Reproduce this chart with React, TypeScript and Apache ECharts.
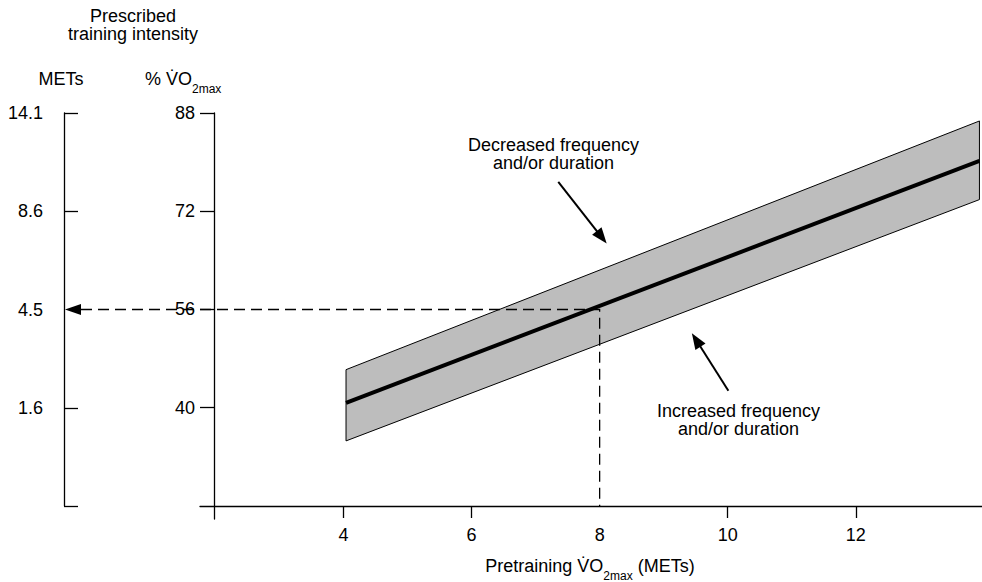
import React, { useEffect, useRef } from "react";
import * as echarts from "echarts";

// ---- data ----
const pctTicks = [40, 56, 72, 88];
const metsTickLabels = ["1.6", "4.5", "8.6", "14.1"];
const metsTickMarks = [24, 40, 72, 88];
const xLabelValues = [4, 6, 8, 10, 12];
const xTickMarks = [4, 6, 10, 12];
const bandX = [4.04, 13.93];
const bandUpper = [46.2, 86.7];
const bandLower = [34.6, 73.9];
const centerLine = [40.8, 80.2];
const readoutMets = 8;
const readoutPct = 56;
const pctAxisBottom = 24;
const decArrow = [[7.354, 76.78], [8.11, 66.73]];
const incArrow = [[10.01, 42.78], [9.44, 52.13]];

const X_MIN = 1.76;
const X_MAX = 13.97;
const Y_MAX = 88;
const Y_MIN = 21.88;

const FONT = '"Liberation Sans", Arial, Helvetica, sans-serif';

function arrowEls(from: number[], to: number[], headLen: number, halfW: number, lw: number) {
  const dx = to[0] - from[0];
  const dy = to[1] - from[1];
  const L = Math.sqrt(dx * dx + dy * dy);
  const ux = dx / L, uy = dy / L;
  const bx = to[0] - ux * headLen, by = to[1] - uy * headLen;
  const nx = -uy, ny = ux;
  return [
    {
      type: "line", z: 100,
      shape: { x1: from[0], y1: from[1], x2: bx + ux * 2, y2: by + uy * 2 },
      style: { stroke: "#000", lineWidth: lw },
    },
    {
      type: "polygon", z: 100,
      shape: { points: [[to[0], to[1]], [bx + nx * halfW, by + ny * halfW], [bx - nx * halfW, by - ny * halfW]] },
      style: { fill: "#000" },
    },
  ];
}

export default function App() {
  const ref = useRef<HTMLDivElement>(null);
  useEffect(() => {
    const chart = echarts.init(ref.current!, null, { renderer: "svg" });
    const axisLineStyle = { color: "#000", width: 1.3 };
    const labelStyle = { fontSize: 18, color: "#000", fontFamily: FONT };
    const richMain = { fontSize: 18, lineHeight: 18, verticalAlign: "top", fontFamily: FONT, fill: "#000", color: "#000" };
    const richSub = { fontSize: 12, lineHeight: 38, verticalAlign: "middle", fontFamily: FONT, fill: "#000", color: "#000" };

    const option: any = {
      animation: false,
      backgroundColor: "#fff",
      textStyle: { fontFamily: FONT, color: "#000" },
      grid: [
        { left: 200, top: 113, width: 782, height: 406 },
        { left: 64, top: 113, width: 20, height: 393 },
      ],
      xAxis: [
        {
          type: "value", gridIndex: 0, min: X_MIN, max: X_MAX, position: "bottom", offset: -13,
          axisLine: { show: true, onZero: false, lineStyle: axisLineStyle },
          axisTick: { show: true, inside: false, length: 12, customValues: xTickMarks, lineStyle: axisLineStyle },
          axisLabel: { show: true, customValues: xLabelValues, margin: 20, ...labelStyle },
          splitLine: { show: false },
        },
        { type: "value", gridIndex: 1, min: 0, max: 1, show: false },
      ],
      yAxis: [
        {
          type: "value", gridIndex: 0, min: Y_MIN, max: Y_MAX, position: "left", offset: -14,
          axisLine: { show: true, onZero: false, lineStyle: axisLineStyle },
          axisTick: { show: true, inside: false, length: 14, customValues: pctTicks, lineStyle: axisLineStyle },
          axisLabel: { show: true, customValues: pctTicks, margin: 19, ...labelStyle },
          splitLine: { show: false },
        },
        {
          type: "value", gridIndex: 1, min: pctAxisBottom, max: Y_MAX, position: "left",
          axisLine: { show: true, onZero: false, lineStyle: axisLineStyle },
          axisTick: { show: true, inside: true, length: 14, customValues: metsTickMarks, lineStyle: axisLineStyle },
          axisLabel: {
            show: true, customValues: pctTicks, margin: 21, ...labelStyle,
            formatter: (v: number) => metsTickLabels[pctTicks.indexOf(v)] ?? "",
          },
          splitLine: { show: false },
        },
      ],
      series: [
        {
          type: "custom",
          xAxisIndex: 0, yAxisIndex: 0,
          data: bandX.map((x, i) => [x, bandLower[i], bandUpper[i]]),
          encode: { x: 0, y: [1, 2] },
          renderItem: (params: any, api: any) => {
            if (params.dataIndex !== 0) return null;
            const pts: number[][] = [];
            bandX.forEach((x, i) => pts.push(api.coord([x, bandUpper[i]])));
            for (let i = bandX.length - 1; i >= 0; i--) pts.push(api.coord([bandX[i], bandLower[i]]));
            return {
              type: "polygon",
              shape: { points: pts },
              style: { fill: "#bdbdbd", stroke: "#000", lineWidth: 1 },
            };
          },
          z: 2,
        },
        {
          type: "line",
          xAxisIndex: 0, yAxisIndex: 0,
          data: bandX.map((x, i) => [x, centerLine[i]]),
          symbol: "none",
          lineStyle: { color: "#000", width: 4 },
          z: 3,
        },
      ],
      graphic: [
        {
          type: "text", x: 133, y: 25, z: 100,
          style: { text: "Prescribed\ntraining intensity", fill: "#000", fontSize: 18, fontFamily: FONT, align: "center", verticalAlign: "middle", lineHeight: 18 },
        },
        {
          type: "text", x: 61, y: 78.5, z: 100,
          style: { text: "METs", fill: "#000", fontSize: 18, fontFamily: FONT, align: "center", verticalAlign: "middle" },
        },
        {
          type: "text", x: 145, y: 69.5, z: 100,
          style: {
            text: "{m|% V\u0307O}{s|2max}", fill: "#000", fontSize: 18, fontFamily: FONT, align: "left", verticalAlign: "top",
            rich: { m: richMain, s: richSub },
          },
        },
        {
          type: "text", x: 553.5, y: 153.5, z: 100,
          style: { text: "Decreased frequency\nand/or duration", fill: "#000", fontSize: 18, fontFamily: FONT, align: "center", verticalAlign: "middle", lineHeight: 18 },
        },
        {
          type: "text", x: 738.5, y: 420, z: 100,
          style: { text: "Increased frequency\nand/or duration", fill: "#000", fontSize: 18, fontFamily: FONT, align: "center", verticalAlign: "middle", lineHeight: 18 },
        },
        {
          type: "text", x: 590, y: 557, z: 100,
          style: {
            text: "{m|Pretraining V\u0307O}{s|2max}{m| (METs)}", fill: "#000", fontSize: 18, fontFamily: FONT, align: "center", verticalAlign: "top",
            rich: { m: richMain, s: richSub },
          },
        },
      ],
    };
    chart.setOption(option);

    // annotation overlays computed from data coordinates
    const p = (v: number[]) => chart.convertToPixel({ gridIndex: 0 } as any, v) as number[];
    const metsPt = chart.convertToPixel({ gridIndex: 1 } as any, [0, readoutPct]) as number[];
    const readPt = p([readoutMets, readoutPct]);
    const basePt = p([readoutMets, pctAxisBottom]);
    const tipX = metsPt[0] + 1;
    const headBase = tipX + 16;
    const extra: any[] = [
      {
        type: "polyline", z: 90,
        shape: { points: [[headBase, metsPt[1]], [readPt[0], readPt[1]], [basePt[0], basePt[1]]] },
        style: { stroke: "#000", lineWidth: 1.3, lineDash: [11, 6], fill: "none" },
      },
      {
        type: "polygon", z: 100,
        shape: { points: [[tipX, metsPt[1]], [headBase, metsPt[1] - 5.5], [headBase, metsPt[1] + 5.5]] },
        style: { fill: "#000" },
      },
      ...arrowEls(p(decArrow[0]), p(decArrow[1]), 16, 6, 2),
      ...arrowEls(p(incArrow[0]), p(incArrow[1]), 16, 6, 2),
    ];
    chart.setOption({ graphic: [...option.graphic, ...extra] }, { replaceMerge: ["graphic"] } as any);

    return () => chart.dispose();
  }, []);
  return <div ref={ref} style={{ position: "fixed", left: 0, top: 0, width: 982, height: 582, background: "#fff" }} />;
}
